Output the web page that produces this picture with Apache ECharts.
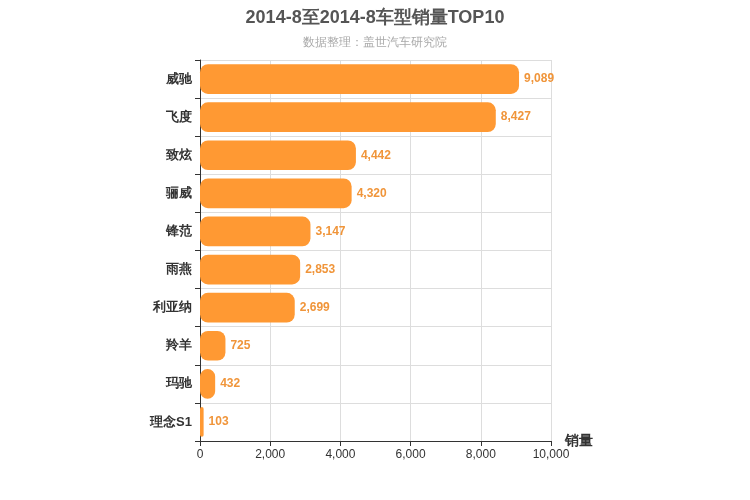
<!DOCTYPE html>
<html><head><meta charset="utf-8">
<script src="https://cdn.jsdelivr.net/npm/echarts@6/dist/echarts.min.js"></script>
</head><body style="margin:0">
<div id="c" style="width:750px;height:500px"></div>
<script>
const categories = ['威驰','飞度','致炫','骊威','锋范','雨燕','利亚纳','羚羊','玛驰','理念S1'];
const sales = [9089,8427,4442,4320,3147,2853,2699,725,432,103];
const xTicks = {min:0,max:10000,interval:2000};
const chart = echarts.init(document.getElementById('c'));
chart.setOption({
  title:{text:'2014-8至2014-8车型销量TOP10',subtext:'数据整理：盖世汽车研究院',left:'center',top:4,
    textStyle:{fontSize:18,fontWeight:'bold',color:'#555'},subtextStyle:{fontSize:12,color:'#aaa'},itemGap:10},
  grid:{left:200,right:199,top:60,bottom:59},
  xAxis:{type:'value',min:xTicks.min,max:xTicks.max,interval:xTicks.interval,name:'销量',nameLocation:'end',
    nameGap:14,nameTextStyle:{fontSize:14,fontWeight:'bold',color:'#333',verticalAlign:'middle',padding:[0,0,6,0]},
    axisLine:{show:true,lineStyle:{color:'#333'}},axisTick:{show:true},
    axisLabel:{color:'#333',formatter:v=>v.toLocaleString('en-US')},
    splitLine:{lineStyle:{color:'#ddd'}}},
  yAxis:{type:'category',data:categories,inverse:true,
    axisLine:{lineStyle:{color:'#333'}},axisTick:{show:true},
    axisLabel:{color:'#333',fontWeight:'bold',fontSize:13},
    splitLine:{show:true,lineStyle:{color:'#ddd'}}},
  series:[{type:'bar',data:sales,barWidth:'78%',itemStyle:{color:'#ff9933',borderRadius:8},
    label:{show:true,position:'right',color:'#f0953a',fontWeight:'bold',fontSize:12,
      formatter:p=>p.value.toLocaleString('en-US')}}]
});
</script></body></html>
